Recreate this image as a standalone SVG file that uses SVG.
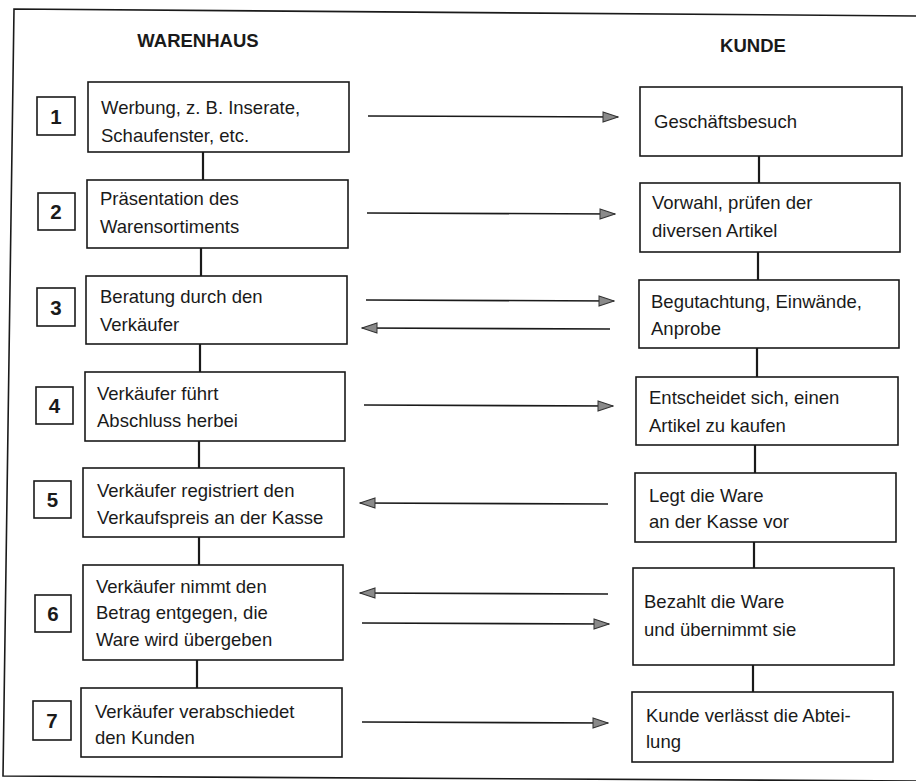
<svg xmlns="http://www.w3.org/2000/svg" width="916" height="781" viewBox="0 0 916 781">
<style>
.box{fill:#fff;stroke:#1a1a1a;stroke-width:1.6}
.num{fill:#fff;stroke:#1a1a1a;stroke-width:1.6}
.t{font-family:"Liberation Sans",Arial,sans-serif;font-size:18.5px;fill:#1a1a1a}
.h{font-family:"Liberation Sans",Arial,sans-serif;font-size:18.5px;font-weight:bold;fill:#1a1a1a;text-anchor:middle}
.n{font-family:"Liberation Sans",Arial,sans-serif;font-size:20.5px;font-weight:bold;fill:#1a1a1a;text-anchor:middle}
.v{stroke:#1a1a1a;stroke-width:2.2;fill:none}
.a{stroke:#1a1a1a;stroke-width:1.6;fill:none;marker-end:url(#ah)}
</style>
<defs>
<marker id="ah" markerUnits="userSpaceOnUse" markerWidth="17" markerHeight="12" refX="16" refY="6" orient="auto">
<path d="M1,1 L16,6 L1,11 Z" fill="#8a8a8a" stroke="#333" stroke-width="1"/>
</marker>
</defs>
<rect width="916" height="781" fill="#fff"/>
<path id="frame" d="M916,16 L14,9 L3,776 L916,781" fill="none" stroke="#1a1a1a" stroke-width="1.6"/>
<text class="h" x="198" y="47">WARENHAUS</text>
<text class="h" x="753" y="52">KUNDE</text>
<g id="connectors">
<line class="v" x1="203" y1="152" x2="203" y2="180"/>
<line class="v" x1="201" y1="248" x2="201" y2="276"/>
<line class="v" x1="200" y1="344" x2="200" y2="372"/>
<line class="v" x1="199" y1="441" x2="199" y2="468"/>
<line class="v" x1="199" y1="537" x2="199" y2="565"/>
<line class="v" x1="197" y1="660" x2="197" y2="688"/>
<line class="v" x1="759" y1="156" x2="759" y2="183"/>
<line class="v" x1="758" y1="252" x2="758" y2="280"/>
<line class="v" x1="757" y1="348" x2="757" y2="377"/>
<line class="v" x1="755" y1="445" x2="755" y2="473"/>
<line class="v" x1="754" y1="542" x2="754" y2="568"/>
<line class="v" x1="753" y1="665" x2="753" y2="692"/>
<line class="a" x1="368" y1="116" x2="618" y2="117"/>
<line class="a" x1="367" y1="213" x2="615" y2="214"/>
<line class="a" x1="366" y1="300" x2="614" y2="301"/>
<line class="a" x1="610" y1="329" x2="362" y2="328"/>
<line class="a" x1="364" y1="405" x2="613" y2="406"/>
<line class="a" x1="608" y1="504" x2="360" y2="503"/>
<line class="a" x1="608" y1="594" x2="360" y2="593"/>
<line class="a" x1="362" y1="623" x2="609" y2="624"/>
<line class="a" x1="362" y1="722" x2="608" y2="723"/>
</g>
<g id="w1"><rect class="num" x="37" y="97" width="38" height="38"/><text class="n" x="56" y="123.5">1</text>
<rect class="box" x="88" y="82" width="261" height="70"/><text class="t" x="101" y="114">Werbung, z. B. Inserate,</text><text class="t" x="101" y="142">Schaufenster, etc.</text></g>
<g id="w2"><rect class="num" x="38" y="193" width="37" height="37"/><text class="n" x="56" y="219">2</text>
<rect class="box" x="87" y="180" width="261" height="68"/><text class="t" x="100" y="205">Präsentation des</text><text class="t" x="100" y="233">Warensortiments</text></g>
<g id="w3"><rect class="num" x="37" y="288" width="38" height="38"/><text class="n" x="56" y="314.5">3</text>
<rect class="box" x="86" y="276" width="261" height="68"/><text class="t" x="100" y="303">Beratung durch den</text><text class="t" x="100" y="331">Verkäufer</text></g>
<g id="w4"><rect class="num" x="36" y="387" width="37" height="37"/><text class="n" x="54.5" y="413">4</text>
<rect class="box" x="85" y="372" width="260" height="69"/><text class="t" x="97" y="400">Verkäufer führt</text><text class="t" x="97" y="427">Abschluss herbei</text></g>
<g id="w5"><rect class="num" x="34" y="481" width="37" height="37"/><text class="n" x="52.5" y="507">5</text>
<rect class="box" x="83" y="468" width="261" height="69"/><text class="t" x="97" y="497">Verkäufer registriert den</text><text class="t" x="97" y="524">Verkaufspreis an der Kasse</text></g>
<g id="w6"><rect class="num" x="35" y="595" width="36" height="37"/><text class="n" x="53" y="621">6</text>
<rect class="box" x="83" y="565" width="260" height="95"/><text class="t" x="96" y="593">Verkäufer nimmt den</text><text class="t" x="96" y="619">Betrag entgegen, die</text><text class="t" x="96" y="646">Ware wird übergeben</text></g>
<g id="w7"><rect class="num" x="33" y="701" width="38" height="39"/><text class="n" x="52" y="728">7</text>
<rect class="box" x="81" y="688" width="261" height="69"/><text class="t" x="95" y="718">Verkäufer verabschiedet</text><text class="t" x="95" y="744">den Kunden</text></g>
<g id="k1"><rect class="box" x="640" y="87" width="262" height="69"/><text class="t" x="654" y="128">Geschäftsbesuch</text></g>
<g id="k2"><rect class="box" x="640" y="183" width="260" height="69"/><text class="t" x="652" y="209">Vorwahl, prüfen der</text><text class="t" x="652" y="237">diversen Artikel</text></g>
<g id="k3"><rect class="box" x="639" y="280" width="260" height="68"/><text class="t" x="651" y="308">Begutachtung, Einwände,</text><text class="t" x="651" y="335">Anprobe</text></g>
<g id="k4"><rect class="box" x="636" y="377" width="262" height="68"/><text class="t" x="649" y="404">Entscheidet sich, einen</text><text class="t" x="649" y="432">Artikel zu kaufen</text></g>
<g id="k5"><rect class="box" x="635" y="473" width="261" height="69"/><text class="t" x="649" y="502">Legt die Ware</text><text class="t" x="649" y="528">an der Kasse vor</text></g>
<g id="k6"><rect class="box" x="633" y="568" width="261" height="97"/><text class="t" x="644" y="608">Bezahlt die Ware</text><text class="t" x="644" y="636">und übernimmt sie</text></g>
<g id="k7"><rect class="box" x="632" y="692" width="261" height="70"/><text class="t" x="646" y="722">Kunde verlässt die Abtei-</text><text class="t" x="646" y="748">lung</text></g>
</svg>
